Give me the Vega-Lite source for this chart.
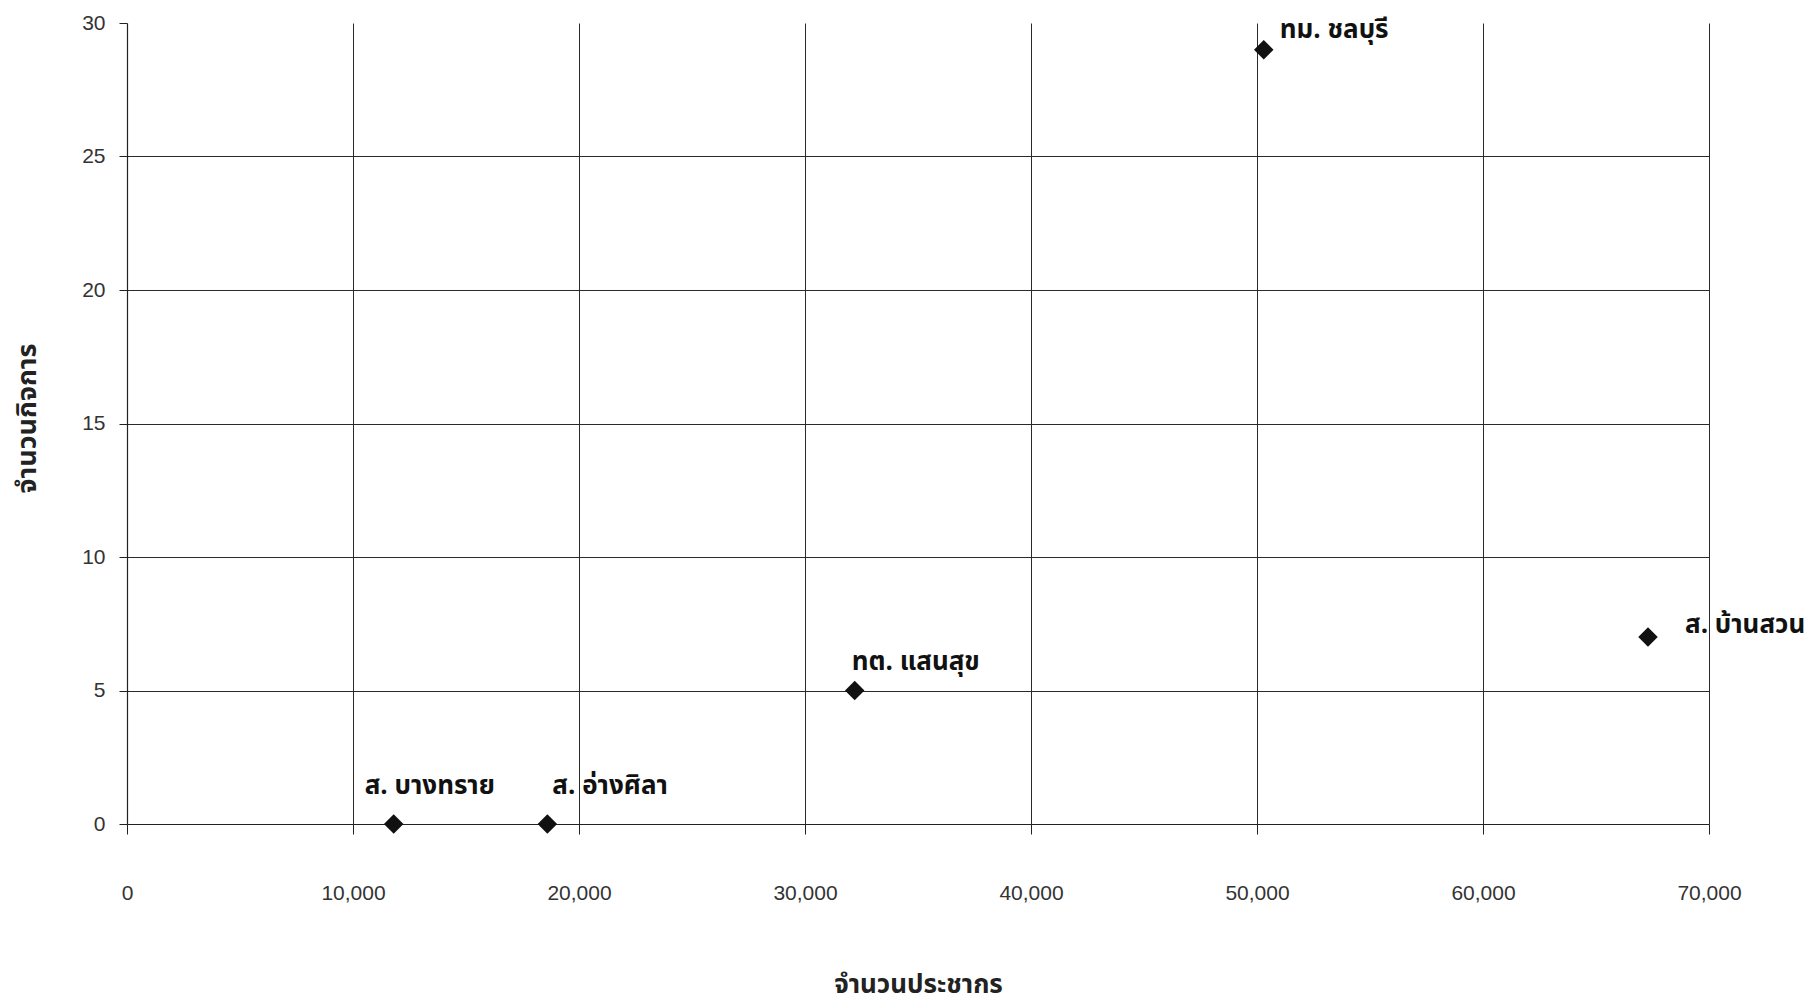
{
  "$schema": "https://vega.github.io/schema/vega-lite/v6.json",
  "autosize": "none",
  "width": 1582,
  "height": 801,
  "padding": {"left": 127, "top": 23, "right": 110, "bottom": 184},
  "background": "white",
  "config": {
    "view": {"stroke": null},
    "font": "Liberation Sans"
  },
  "data": {
    "values": [
      {"name": "ส. บางทราย", "pop": 11800, "biz": 0},
      {"name": "ส. อ่างศิลา", "pop": 18600, "biz": 0},
      {"name": "ทต. แสนสุข", "pop": 32200, "biz": 5},
      {"name": "ทม. ชลบุรี", "pop": 50300, "biz": 29},
      {"name": "ส. บ้านสวน", "pop": 67300, "biz": 7}
    ]
  },
  "encoding": {
    "x": {
      "field": "pop", "type": "quantitative",
      "scale": {"domain": [0, 70000], "nice": false, "zero": true},
      "axis": {
        "title": "จำนวนประชากร",
        "values": [0, 10000, 20000, 30000, 40000, 50000, 60000, 70000],
        "format": ",d",
        "labelFlush": false,
        "grid": true, "gridColor": "#2a2a2a", "gridWidth": 1,
        "gridOpacity": {"condition": {"test": "datum.value == 0", "value": 0}, "value": 1},
        "domain": true, "domainColor": "#222", "domainWidth": 1.2,
        "ticks": true, "tickColor": "#222", "tickSize": 10,
        "labelFont": "Liberation Sans", "labelFontSize": 21, "labelColor": "#333",
        "labelPadding": 48,
        "titleFont": "Noto Sans Thai, Noto Sans, DejaVu Sans, sans-serif", "titleFontSize": 26, "titleFontWeight": "bold", "titleColor": "#222",
        "titleY": 160, "titleBaseline": "middle"
      }
    },
    "y": {
      "field": "biz", "type": "quantitative",
      "scale": {"domain": [0, 30], "nice": false},
      "axis": {
        "title": "จำนวนกิจการ",
        "values": [0, 5, 10, 15, 20, 25, 30],
        "grid": true, "gridColor": "#2a2a2a", "gridWidth": 1,
        "gridOpacity": {"condition": {"test": "datum.value == 30 || datum.value == 0", "value": 0}, "value": 1},
        "domain": true, "domainColor": "#222", "domainWidth": 1.2,
        "ticks": true, "tickColor": "#222", "tickSize": 8,
        "labelFont": "Liberation Sans", "labelFontSize": 21, "labelColor": "#333",
        "labelPadding": 14,
        "titleFont": "Noto Sans Thai, Noto Sans, DejaVu Sans, sans-serif", "titleFontSize": 27, "titleFontWeight": "bold", "titleColor": "#222",
        "titleX": -100, "titleY": 395, "titleBaseline": "middle"
      }
    }
  },
  "layer": [
    {
      "mark": {"type": "point", "shape": "diamond", "filled": true, "color": "#111", "size": 380, "opacity": 1}
    },
    {
      "transform": [{"filter": "datum.name == 'ทม. ชลบุรี'"}],
      "mark": {"type": "text", "align": "left", "baseline": "middle", "dx": 16, "dy": -20, "fontSize": 26, "fontWeight": "bold", "color": "#111", "font": "Noto Sans Thai, Noto Sans, DejaVu Sans, sans-serif"},
      "encoding": {"text": {"field": "name"}}
    },
    {
      "transform": [{"filter": "datum.name == 'ส. บ้านสวน'"}],
      "mark": {"type": "text", "align": "left", "baseline": "middle", "dx": 37, "dy": -12, "fontSize": 26, "fontWeight": "bold", "color": "#111", "font": "Noto Sans Thai, Noto Sans, DejaVu Sans, sans-serif"},
      "encoding": {"text": {"field": "name"}}
    },
    {
      "transform": [{"filter": "datum.name == 'ทต. แสนสุข'"}],
      "mark": {"type": "text", "align": "left", "baseline": "middle", "dx": -3, "dy": -29, "fontSize": 26, "fontWeight": "bold", "color": "#111", "font": "Noto Sans Thai, Noto Sans, DejaVu Sans, sans-serif"},
      "encoding": {"text": {"field": "name"}}
    },
    {
      "transform": [{"filter": "datum.name == 'ส. บางทราย'"}],
      "mark": {"type": "text", "align": "left", "baseline": "middle", "dx": -29, "dy": -38, "fontSize": 26, "fontWeight": "bold", "color": "#111", "font": "Noto Sans Thai, Noto Sans, DejaVu Sans, sans-serif"},
      "encoding": {"text": {"field": "name"}}
    },
    {
      "transform": [{"filter": "datum.name == 'ส. อ่างศิลา'"}],
      "mark": {"type": "text", "align": "left", "baseline": "middle", "dx": 5, "dy": -38, "fontSize": 26, "fontWeight": "bold", "color": "#111", "font": "Noto Sans Thai, Noto Sans, DejaVu Sans, sans-serif"},
      "encoding": {"text": {"field": "name"}}
    }
  ]
}
